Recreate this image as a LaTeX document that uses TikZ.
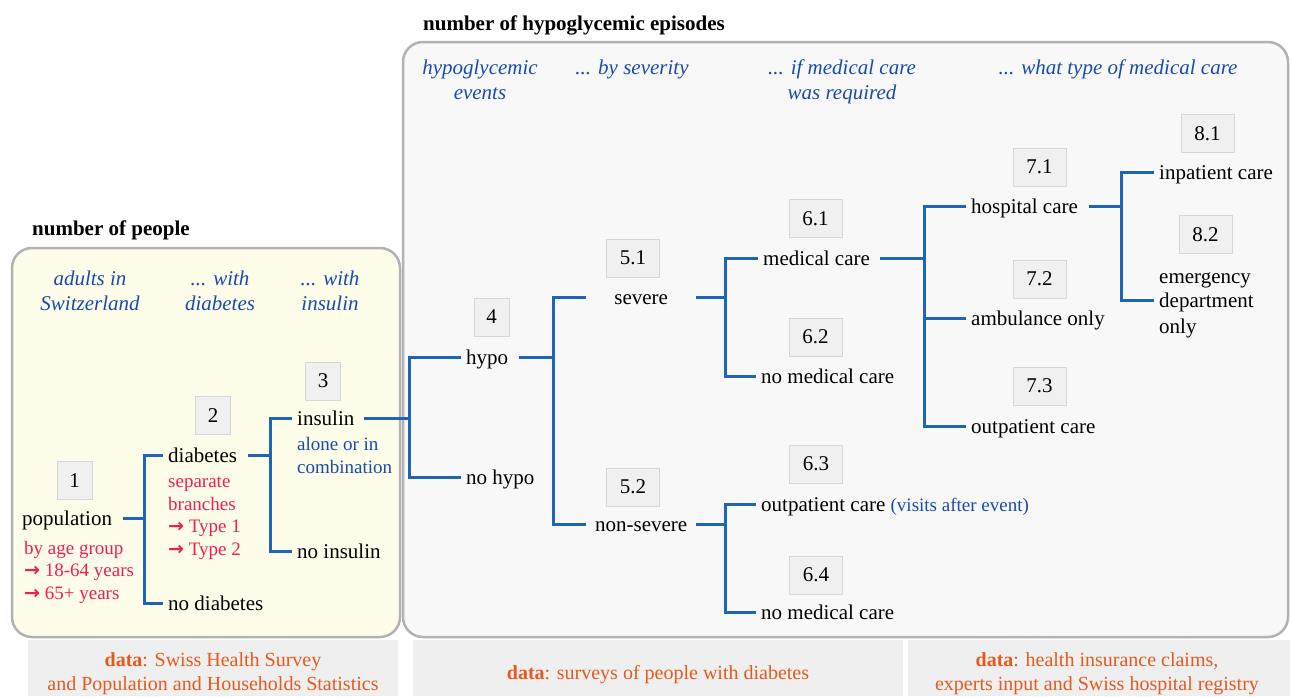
\documentclass[tikz,border=0pt]{standalone}
\usepackage{fontspec}
\setmainfont{Liberation Serif}
\newfontfamily\arrowfont{DejaVu Sans}
\usepackage{xcolor}
\usepackage{tikz}

\definecolor{hdblue}{RGB}{25,75,175}
\definecolor{lnblue}{RGB}{30,100,185}
\definecolor{notered}{RGB}{240,30,85}
\definecolor{dataorange}{RGB}{230,90,30}
\definecolor{panelyellow}{RGB}{253,253,233}
\definecolor{panelgray}{RGB}{248,248,248}
\definecolor{panelrule}{RGB}{178,178,178}
\definecolor{boxgray}{RGB}{240,240,240}
\definecolor{boxrule}{RGB}{214,214,214}
\definecolor{bargray}{RGB}{239,239,239}

\newcommand{\toarrow}{{\arrowfont\bfseries\fontsize{19}{20}\selectfont →}}

\begin{document}
\begin{tikzpicture}[x=1pt, y=-1pt,
    lbl/.style={anchor=west, inner xsep=5pt, inner ysep=0pt, text height=18pt, text depth=3.5pt, font=\fontsize{21}{24}\selectfont},
    mid/.style={lbl, inner xsep=0pt, minimum width=110pt},
    note/.style={anchor=base west, inner sep=0pt, align=left, font=\fontsize{19}{22.6}\selectfont},
    hdr/.style={anchor=base, inner sep=0pt, align=center, text=hdblue, font=\fontsize{21}{24.5}\selectfont\itshape},
    numbox/.style={draw=boxrule, fill=boxgray, inner sep=0pt, minimum width=#1, minimum height=38pt, font=\fontsize{21}{24}\selectfont},
    numbox/.default=35pt,
    conn/.style={draw=lnblue, line width=3pt},
    datatxt/.style={anchor=base, inner sep=0pt, align=center, text=dataorange, font=\fontsize{20}{24}\selectfont}]
        \useasboundingbox (0,0) rectangle (1290,696);

        % panels and data bars (multi-line nodes sit on their last baseline)
        \draw [line width=2.5pt, draw=panelrule, fill=panelyellow, rounded corners=20pt] (12,248) rectangle (400,637);  %people
        \draw [line width=2.5pt, draw=panelrule, fill=panelgray, rounded corners=20pt]   (403,42) rectangle (1288,637); %episodes
        \fill [bargray] (28,640)  rectangle (398,696);                %
        \fill [bargray] (413,640) rectangle (903,696);                %
        \fill [bargray] (908,640) rectangle (1290,696);               %

        \node [anchor=base west, inner sep=0pt, font=\fontsize{21}{24}\selectfont\bfseries] (ttlpeople) at (32,235.5) {number of people};
        \node [anchor=base west, inner sep=0pt, font=\fontsize{21}{24}\selectfont\bfseries] (ttlepis)   at (423,30.5) {number of hypoglycemic episodes};

        % column heads
        \node [hdr] (hd1) at (90,310)    {adults in\\Switzerland};      %
        \node [hdr] (hd2) at (220,310)   {... with\\diabetes};          %
        \node [hdr] (hd3) at (330,310)   {... with\\insulin};           %
        \node [hdr] (hd4) at (480,99)    {hypoglycemic\\events};        %
        \node [hdr] (hd5) at (632,74.5)  {... by severity};             %
        \node [hdr] (hd6) at (842,99)    {... if medical care\\was required};
        \node [hdr] (hd7) at (1118,74.5) {... what type of medical care};

        % step numbers
        \node [numbox]      (n1)  at (74.5,480.5)  {1};                 %
        \node [numbox]      (n2)  at (213,415.5)   {2};                 %
        \node [numbox]      (n3)  at (323,381)     {3};                 %
        \node [numbox]      (n4)  at (491.5,317)   {4};                 %
        \node [numbox=53pt] (n51) at (633,258)     {5.1};               %
        \node [numbox=53pt] (n52) at (633,487)     {5.2};               %
        \node [numbox=53pt] (n61) at (815.5,218.5) {6.1};               %
        \node [numbox=53pt] (n62) at (815.5,337)   {6.2};               %
        \node [numbox=53pt] (n63) at (816,464)     {6.3};               %
        \node [numbox=53pt] (n64) at (816,575)     {6.4};               %
        \node [numbox=53pt] (n71) at (1039.5,167)  {7.1};               %
        \node [numbox=53pt] (n72) at (1039.5,279)  {7.2};               %
        \node [numbox=53pt] (n73) at (1039.5,386)  {7.3};               %
        \node [numbox=53pt] (n81) at (1207.5,133.5) {8.1};              %
        \node [numbox=53pt] (n82) at (1205.5,234.5) {8.2};              %

        % labels
        \node [lbl] (pop)    at (17,518)   {population};                %1
        \node [lbl] (dia)    at (163,455)  {diabetes};                  %2
        \node [lbl] (nodia)  at (163,603)  {no diabetes};               %
        \node [lbl] (ins)    at (292,418)  {insulin};                   %3
        \node [lbl] (noins)  at (292,551)  {no insulin};                %
        \node [lbl] (hypo)   at (461,357)  {hypo};                      %4
        \node [lbl] (nohypo) at (461,477)  {no hypo};                   %
        \node [mid] (sev)    at (586,297)  {severe};                    %5.1
        \node [mid] (nonsev) at (586,524)  {non-severe};                %5.2
        \node [lbl] (med)    at (758,258)  {medical care};              %6.1
        \node [lbl] (nomed)  at (756,376)  {no medical care};           %6.2
        \node [lbl] (outp)   at (756,504)  {outpatient care {\color{hdblue}\fontsize{19}{22}\selectfont(visits after event)}};
        \node [lbl] (nomedb) at (756,612)  {no medical care};           %6.4
        \node [lbl] (hosp)   at (966,206)  {hospital care};             %7.1
        \node [lbl] (amb)    at (966,318)  {ambulance only};            %7.2
        \node [lbl] (outpb)  at (966,426)  {outpatient care};           %7.3
        \node [lbl] (inpat)  at (1154,172) {inpatient care};            %8.1
        \node [lbl] (emerg)  at (1154,276) {emergency};                 %8.2
        \node [lbl] (dept)   at (1154,300) {department};                %
        \node [lbl] (only)   at (1154,326) {only};                      %

        \node [note, text=notered] (agenote)  at (24,599.2)  {by age group\\\toarrow{} 18-64 years\\\toarrow{} 65+ years};
        \node [note, text=notered] (typenote) at (168,555.3) {separate\\branches\\\toarrow{} Type 1\\\toarrow{} Type 2};
        \node [note, text=hdblue]  (insnote)  at (297,473.1) {alone or in\\combination};

        % branch lines
        \coordinate (v1) at (144,0);  \coordinate (v2) at (270,0);
        \coordinate (v3) at (409,0);  \coordinate (v4) at (553,0);
        \coordinate (v5) at (725,0);  \coordinate (v7) at (924,0);
        \coordinate (v8) at (1121,0);

        \draw [conn, shorten <=6pt] (pop.east) -- (pop.east -| v1);                        %
        \draw [conn] (dia.west) -- (dia.west -| v1) -- (nodia.west -| v1) -- (nodia.west); %
        \draw [conn, shorten <=6pt] (dia.east) -- (dia.east -| v2);                        %
        \draw [conn] (ins.west) -- (ins.west -| v2) -- (noins.west -| v2) -- (noins.west); %
        \draw [conn, shorten <=4pt] (ins.east) -- (ins.east -| v3);                        %
        \draw [conn] (hypo.west) -- (hypo.west -| v3) -- (nohypo.west -| v3) -- (nohypo.west);
        \draw [conn, shorten <=6pt] (hypo.east) -- (hypo.east -| v4);                      %
        \draw [conn] (sev.west) -- (sev.west -| v4) -- (nonsev.west -| v4) -- (nonsev.west);
        \draw [conn] (sev.east) -- (sev.east -| v5);                                       %
        \draw [conn] (med.west) -- (med.west -| v5) -- (nomed.west -| v5) -- (nomed.west); %
        \draw [conn] (nonsev.east) -- (nonsev.east -| v5);                                 %
        \draw [conn] (outp.west) -- (outp.west -| v5) -- (nomedb.west -| v5) -- (nomedb.west);
        \draw [conn, shorten <=5pt] (med.east) -- (med.east -| v7);                        %
        \draw [conn] (hosp.west) -- (hosp.west -| v7) -- (outpb.west -| v7) -- (outpb.west);
        \draw [conn] (amb.west -| v7) -- (amb.west);                                       %
        \draw [conn, shorten <=6pt] (hosp.east) -- (hosp.east -| v8);                      %
        \draw [conn] (inpat.west) -- (inpat.west -| v8) -- (dept.west -| v8) -- (dept.west);

        % data sources
        \node [datatxt] (src1) at (213,690.5) {\textbf{data}: Swiss Health Survey\\and Population and Households Statistics};
        \node [datatxt] (src2) at (658,679.5) {\textbf{data}: surveys of people with diabetes};
        \node [datatxt] (src3) at (1097,690.5) {\textbf{data}: health insurance claims,\\experts input and Swiss hospital registry};
\end{tikzpicture}
\end{document}
